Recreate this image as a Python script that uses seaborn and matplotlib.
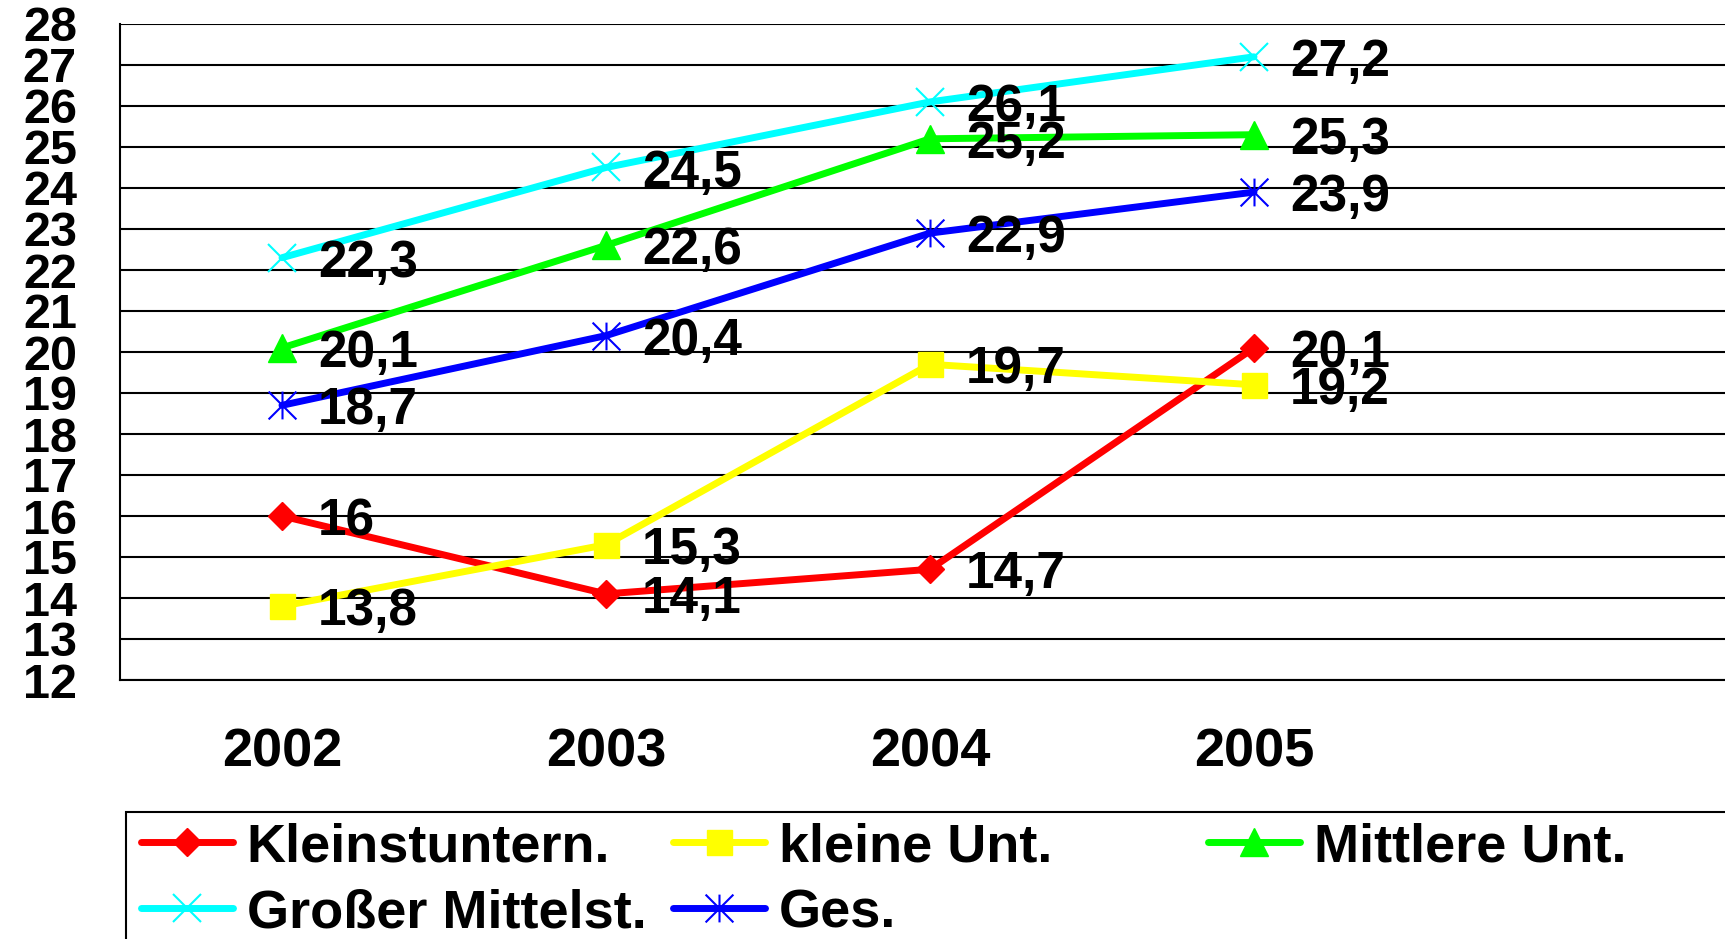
import numpy as np
import seaborn as sns
import matplotlib.pyplot as plt
from matplotlib.path import Path
from matplotlib.patches import Rectangle

# Daten
years = ['2002', '2003', '2004', '2005']
kleinst = [16.0, 14.1, 14.7, 20.1]
kleine = [13.8, 15.3, 19.7, 19.2]
mittlere = [20.1, 22.6, 25.2, 25.3]
grosser = [22.3, 24.5, 26.1, 27.2]
ges = [18.7, 20.4, 22.9, 23.9]
names = ['Kleinstuntern.', 'kleine Unt.', 'Mittlere Unt.', 'Großer Mittelst.', 'Ges.']
colors = ['#FF0000', '#FFFF00', '#00FF00', '#00FFFF', '#0000FF']
y_ticks = list(range(12, 29))

sns.set_style('white')
plt.rcParams['font.family'] = ['Liberation Sans', 'DejaVu Sans']
plt.rcParams['font.weight'] = 'bold'
plt.rcParams['text.color'] = 'black'
plt.rcParams['xtick.color'] = 'black'
plt.rcParams['ytick.color'] = 'black'

# Excel-Stern: X plus senkrechter Strich
asterisk = Path([(-1, -1), (1, 1), (-1, 1), (1, -1), (0, -1), (0, 1)],
                [Path.MOVETO, Path.LINETO, Path.MOVETO, Path.LINETO, Path.MOVETO, Path.LINETO])
markers = ['D', 's', '^', 'x', asterisk]
msizes = [14, 18, 20, 20, 20]
mews = [1, 1, 1, 1.5, 1.5]

series = [kleinst, kleine, mittlere, grosser, ges]
x = np.arange(len(years))

fig = plt.figure(figsize=(17.25, 9.39), dpi=100)
ax = fig.add_axes([120 / 1725, 259 / 939, 1620 / 1725, 656 / 939])

for vals, name, col, mk, ms, mw in zip(series, names, colors, markers, msizes, mews):
    sns.lineplot(x=x, y=vals, ax=ax, color=col, lw=5, marker=mk, markersize=ms,
                 markerfacecolor=col, markeredgecolor=col, markeredgewidth=mw,
                 label=name, legend=False)
    for xi, v in zip(x, vals):
        ax.annotate(f'{v:g}'.replace('.', ','), (xi, v), xytext=(26, -4),
                    textcoords='offset points', ha='left', va='center',
                    fontsize=37, fontweight='bold', color='black')

ax.set_xlim(-0.5, 4.5)
ax.set_ylim(12, 28)
ax.set_yticks(y_ticks)
ax.set_xticks([0.5, 1.5, 2.5, 3.5], ['', '', '', ''])
ax.set_xticks(x, years, minor=True)
ax.tick_params(axis='x', which='major', length=10.8, width=1.44, direction='out', colors='black')
ax.tick_params(axis='x', which='minor', length=0, pad=34, labelsize=39, labelcolor='black')
ax.tick_params(axis='y', length=13, width=1.44, direction='out', pad=18, labelsize=35,
               colors='black', labelcolor='black')
ax.yaxis.grid(True, color='black', lw=1.5)
ax.set_axisbelow(True)
for s in ['top', 'right']:
    ax.spines[s].set_visible(False)
for s in ['left', 'bottom']:
    ax.spines[s].set_color('black')
    ax.spines[s].set_linewidth(1.5)

# Legende in drei Spalten
handles, labels = ax.get_legend_handles_labels()
cols = [[0, 3], [1, 4], [2]]
starts = [141, 673, 1208]
for idx, sx in zip(cols, starts):
    leg = fig.legend([handles[i] for i in idx], [labels[i] for i in idx],
                     loc='upper left', bbox_to_anchor=(sx / 1725, 1 - 822 / 939),
                     frameon=False, fontsize=39, handlelength=1.7, handletextpad=0.25,
                     labelspacing=0.3, borderpad=0, borderaxespad=0)
    for t in leg.get_texts():
        t.set_color('black')

fig.add_artist(Rectangle((126 / 1725, -0.2), 2, (939 - 812) / 939 + 0.2,
                         transform=fig.transFigure, fill=False, ec='black', lw=1.5))

fig.savefig('out.png', dpi=100)
